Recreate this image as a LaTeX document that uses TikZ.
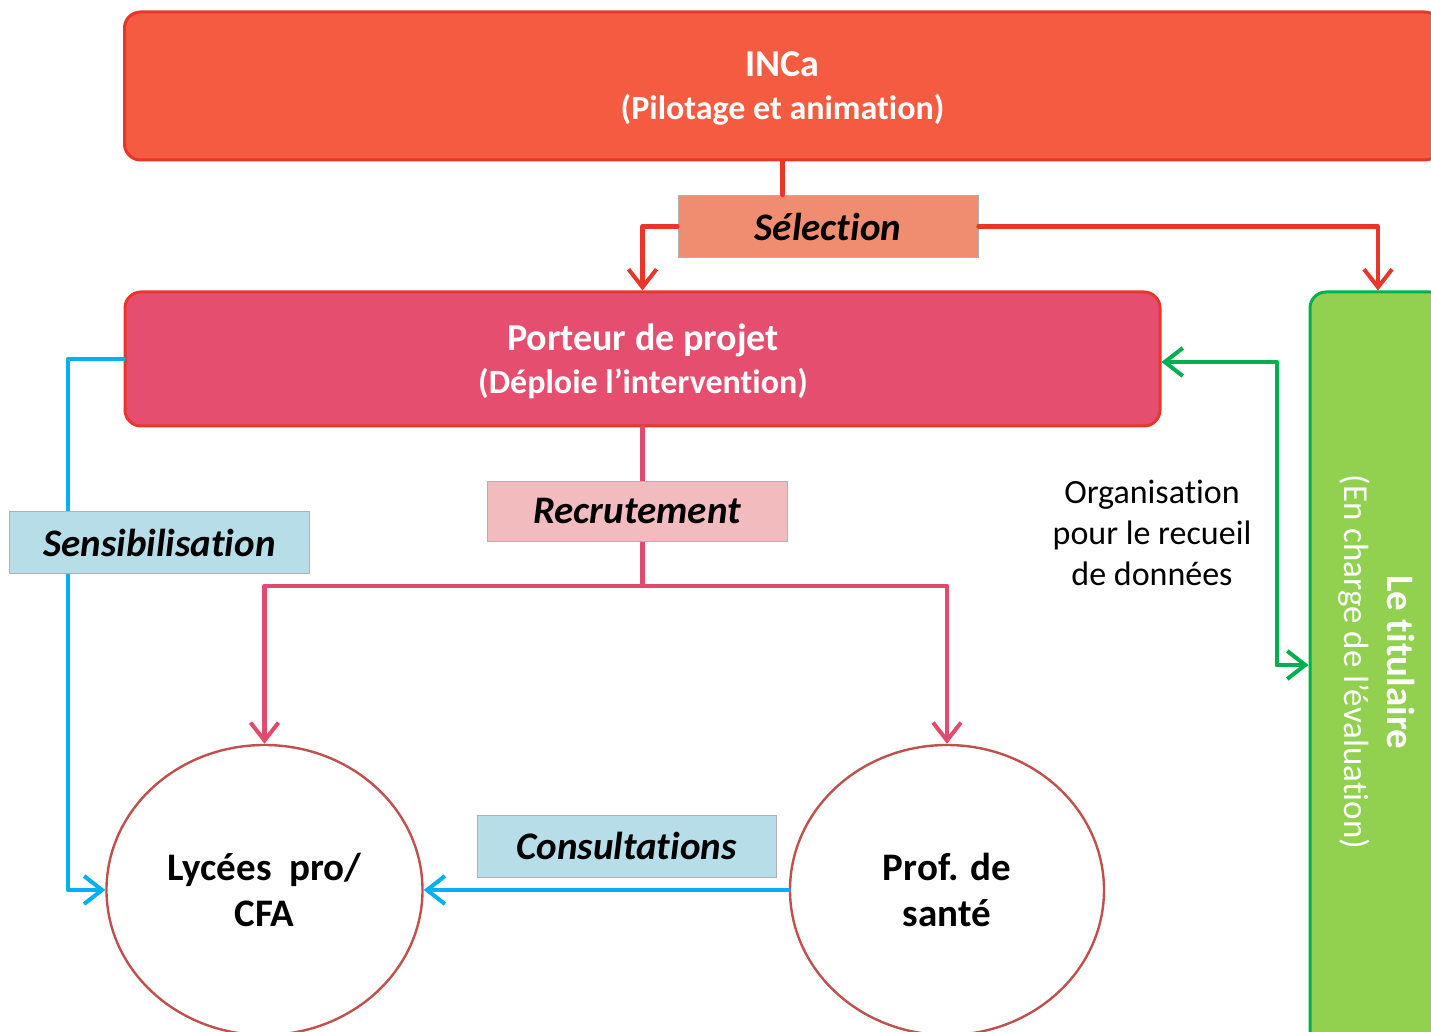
\documentclass[tikz,border=0pt]{standalone}
\usepackage{fontspec}
\setmainfont{Carlito}[Ligatures=NoCommon]
\usetikzlibrary{arrows.meta,shapes.geometric}
\definecolor{incafill}{HTML}{F45B40}
\definecolor{redline}{HTML}{E8372A}
\definecolor{selfill}{HTML}{F08C70}
\definecolor{portfill}{HTML}{E64E70}
\definecolor{recfill}{HTML}{F2BCBF}
\definecolor{lblue}{HTML}{B6DDE8}
\definecolor{bline}{HTML}{00B0F0}
\definecolor{pline}{HTML}{E14B6E}
\definecolor{circ}{HTML}{C0504D}
\definecolor{gfill}{HTML}{92D050}
\definecolor{gline}{HTML}{00B050}
\tikzset{
  bigbox/.style={rounded corners=8pt, line width=1.5pt, draw=redline, text=white,
    font=\fontsize{17}{21.5}\selectfont\bfseries, align=center, inner sep=0pt},
  labbox/.style={draw=black!30, line width=0.4pt, inner sep=0pt,
    font=\fontsize{19.5}{22}\selectfont\bfseries\itshape},
  circnode/.style={ellipse, draw=circ, fill=white, line width=1.2pt, inner sep=0pt,
    font=\fontsize{19.5}{23}\selectfont\bfseries, align=center},
  tip/.style={-{Straight Barb[length=9pt,width=14pt,line width=2pt]}},
  conn/.style={line width=2.1pt, line cap=round, line join=round}
}
\begin{document}
\begin{tikzpicture}[x=0.5pt,y=-0.5pt]
\useasboundingbox (0,0) rectangle (1431,1032);
\clip (0,0) rectangle (1431,1032);
% main boxes
\node[bigbox, fill=incafill, minimum width=658pt, minimum height=74pt] (inca) at (782.5,86) {};
\node[text=white, align=center, font=\fontsize{17}{21.5}\selectfont\bfseries] at (782.5,88.5)
  {{\fontsize{19}{21.5}\selectfont INCa}\\(Pilotage et animation)};
\node[bigbox, fill=portfill, minimum width=517.5pt, minimum height=67pt] (port) at (642.5,359) {};
\node[text=white, align=center, font=\fontsize{17}{21.5}\selectfont\bfseries] at (643,361.5)
  {{\fontsize{19}{21.5}\selectfont Porteur de projet}\\(Déploie l’intervention)};
\node[rounded corners=8pt, line width=1.5pt, draw=gline, fill=gfill, minimum width=68pt,
  minimum height=380pt, inner sep=0pt] (tit) at (1378,672) {};
\node[rotate=-90, text=white, align=center, font=\fontsize{17.5}{21.5}\selectfont] at (1377,662)
  {{\fontsize{19.5}{21.5}\selectfont\bfseries Le titulaire}\\(En charge de l’évaluation)};
\node[circnode, minimum width=158pt, minimum height=145pt] (lyc) at (264.5,890)
  {Lycées\ \ pro/\\CFA};
\node[circnode, minimum width=157pt, minimum height=145pt] (prof) at (947,890)
  {Prof. de\\santé};
% label boxes connected
\node[labbox, fill=selfill, minimum width=150pt, minimum height=31pt] (sel) at (828,226.5) {Sélection};
\node[labbox, fill=recfill, minimum width=150pt, minimum height=30pt] (rec) at (637,511) {Recrutement};
% connectors
\draw[conn, redline] (inca.south) -- (inca.south |- sel.north);
\draw[conn, redline, tip] (sel.west) -| (port.north);
\draw[conn, redline, tip] (sel.east) -| (tit.north);
\coordinate (pj) at (642.5,586);
\draw[conn, pline] (port.south) -- (pj);
\draw[conn, pline, tip] (pj) -| (lyc.north);
\draw[conn, pline, tip] (pj) -| (prof.north);
\node[labbox, fill=recfill, minimum width=150pt, minimum height=30pt] at (rec) {Recrutement};
\coordinate (bl) at (68,359);
\draw[conn, bline, tip] (port.west) -- (bl) |- (lyc.west);
\draw[conn, bline, tip] (prof.west) -- (lyc.east);
\coordinate (gc) at (1277,665);
\draw[conn, gline, tip] (gc) -- (gc -| tit.west);
\draw[conn, gline, tip] (gc) |- ([yshift=-1.5pt]port.east);
% label boxes on lines
\node[labbox, fill=lblue, minimum width=150pt, minimum height=31pt] (sens) at (159.5,542.5) {Sensibilisation};
\node[labbox, fill=lblue, minimum width=149.5pt, minimum height=31pt] (cons) at (626.5,846) {Consultations};
\node[align=center, font=\fontsize{17}{20.5}\selectfont] (org) at (1152,533)
  {Organisation\\pour le recueil\\de données};
\end{tikzpicture}
\end{document}
